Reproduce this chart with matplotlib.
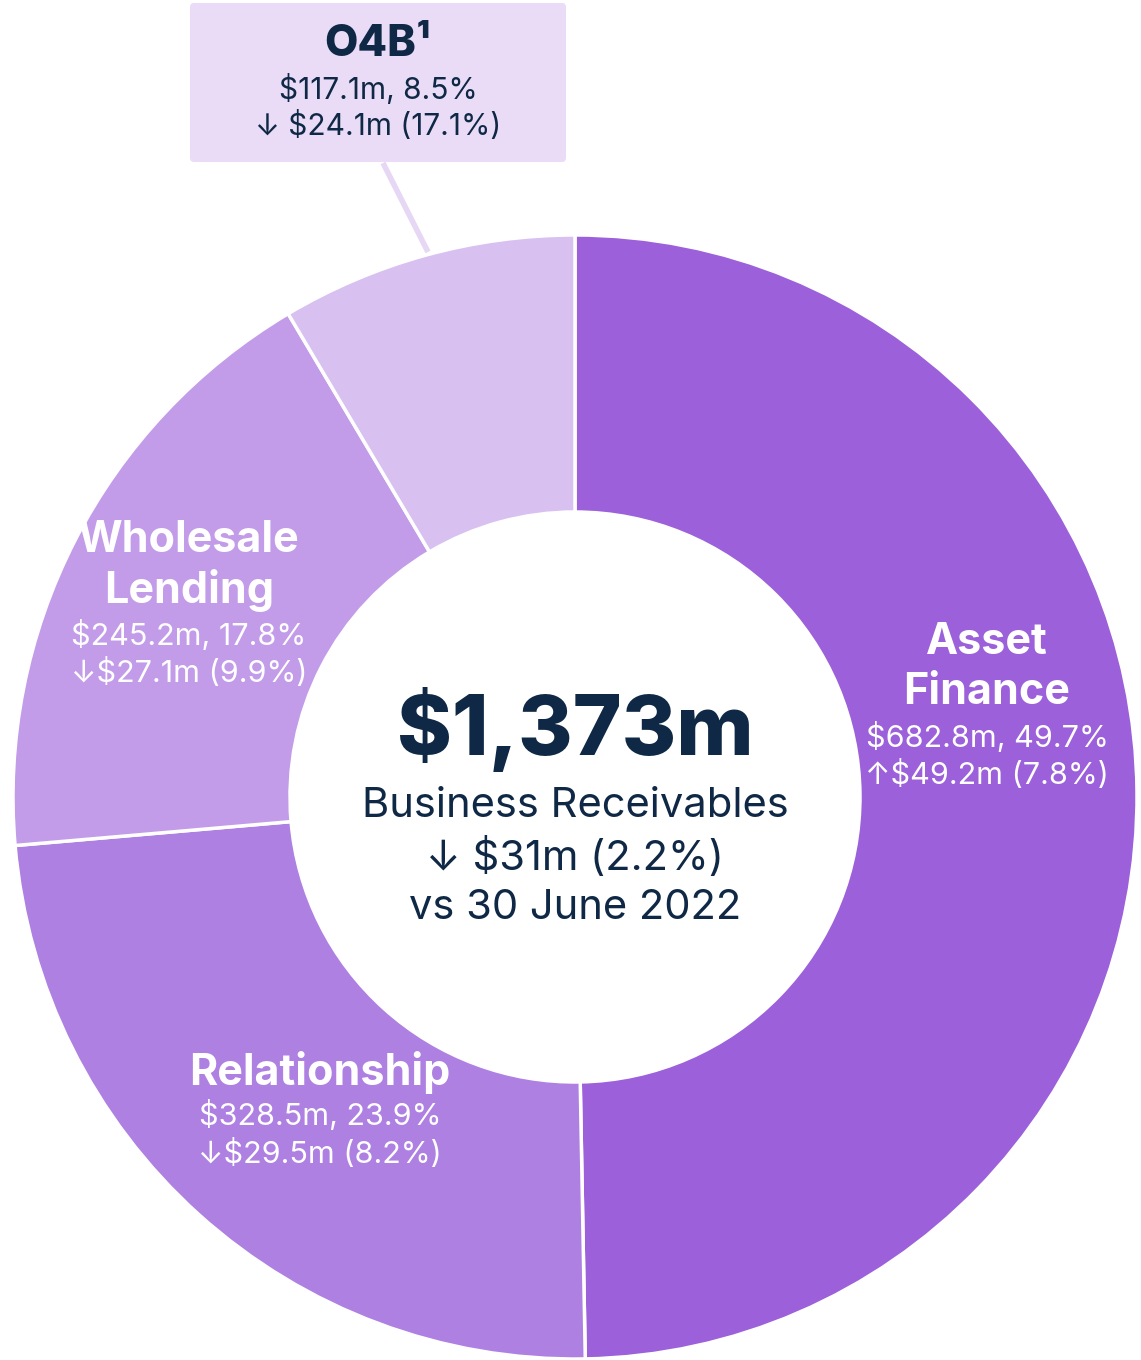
import matplotlib
matplotlib.use('Agg')
import matplotlib.pyplot as plt
from matplotlib.patches import FancyBboxPatch

plt.rcParams['font.family'] = ['Inter', 'DejaVu Sans']

# Business receivables by segment ($m)
segments = ['Asset Finance', 'Relationship', 'Wholesale Lending', 'O4B']
values = [682.8, 328.5, 245.2, 117.1]
shares = [49.7, 23.9, 17.8, 8.5]
changes = ['↑$49.2m (7.8%)', '↓$29.5m (8.2%)', '↓$27.1m (9.9%)', '↓ $24.1m (17.1%)']
colors = ['#9b60da', '#ae80e2', '#c39ce9', '#d8c0f0']

total_label = '$1,373m'
center_lines = ['Business Receivables', '↓ $31m (2.2%)', 'vs 30 June 2022']

W, H = 1141, 1360
fig = plt.figure(figsize=(W / 100, H / 100), dpi=100)
ax = fig.add_axes([0, 0, 1, 1])
ax.set_xlim(0, W)
ax.set_ylim(0, H)
ax.axis('off')

cx, cy = 575, H - 797
R = 562
ax.pie(values, colors=colors, startangle=90, counterclock=False,
       center=(cx, cy), radius=R,
       wedgeprops=dict(width=R - 285, edgecolor='white', linewidth=2.5))
ax.set_xlim(0, W)
ax.set_ylim(0, H)
ax.set_aspect('equal')

navy = '#0f2845'

# centre text
ax.text(cx, H - 730, total_label, ha='center', va='center', fontsize=60,
        fontweight='heavy', color=navy)
for i, line in enumerate(center_lines):
    ax.text(cx, H - 806 - i * 51, line, ha='center', va='center',
            fontsize=30, color=navy)

# labels inside the ring
def seg_label(x, y, title_lines, sub_lines):
    yy = y
    for t in title_lines:
        ax.text(x, H - yy, t, ha='center', va='center', fontsize=31,
                fontweight='bold', color='white')
        yy += 51
    yy -= 7
    for s in sub_lines:
        ax.text(x, H - yy, s, ha='center', va='center', fontsize=22,
                color='white')
        yy += 38

seg_label(987, 642, ['Asset', 'Finance'],
          ['$%.1fm, %.1f%%' % (values[0], shares[0]), changes[0]])
seg_label(320, 1072, ['Relationship'],
          ['$%.1fm, %.1f%%' % (values[1], shares[1]), changes[1]])
seg_label(189, 540, ['Wholesale', 'Lending'],
          ['$%.1fm, %.1f%%' % (values[2], shares[2]), changes[2]])

# O4B callout box
ax.plot([383, 428], [H - 163, H - 252], color='#e6d8f5', linewidth=4,
        solid_capstyle='butt', zorder=1)
box = FancyBboxPatch((190, H - 162), 376, 159,
                     boxstyle='round,pad=0,rounding_size=4',
                     facecolor='#eadcf6', edgecolor='none', zorder=2)
ax.add_patch(box)
ax.text(378, H - 44, 'O4B¹', ha='center', va='center', fontsize=31,
        fontweight='heavy', color=navy, zorder=3)
ax.text(378, H - 89, '$%.1fm, %.1f%%' % (values[3], shares[3]),
        ha='center', va='center', fontsize=21.5, color=navy, zorder=3)
ax.text(378, H - 126, changes[3], ha='center', va='center', fontsize=21.5,
        color=navy, zorder=3)

fig.savefig('out.png', dpi=100, facecolor='white')
